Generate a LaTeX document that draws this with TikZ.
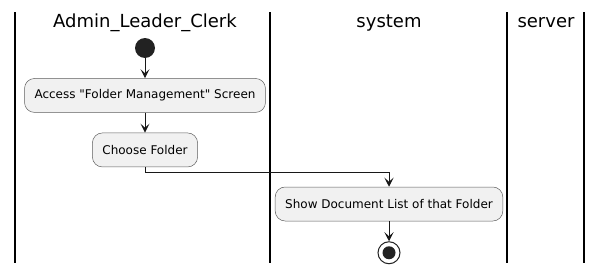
\documentclass[tikz,border=0pt]{standalone}
\usepackage{fontspec}
\setmainfont{DejaVu Sans}[Ligatures=TeXOff]
\usetikzlibrary{positioning}
\usetikzlibrary{arrows.meta}
\definecolor{actfill}{HTML}{F1F1F1}
\definecolor{actline}{HTML}{181818}
\definecolor{dotfill}{HTML}{222222}
\tikzset{action/.style={
		rectangle,
		rounded corners=10pt,
		draw=actline!70,
		fill=actfill,
		line width=0.5pt,
		minimum height=34pt,
		inner xsep=10pt,
		font=\fontsize{12}{14}\selectfont,
	}
}
\tikzset{lane/.style={
		line width=1.5pt,
	}
}
\tikzset{lanetitle/.style={
		font=\fontsize{18}{20}\selectfont,
		inner sep=0pt,
	}
}
\tikzset{flow/.style={
		-{Stealth[length=9pt, width=9pt, inset=4pt]},
		line width=1pt,
		actline,
	}
}
\tikzset{startdot/.style={
		circle,
		fill=dotfill,
		minimum size=20pt,
		inner sep=0pt,
	}
}
\tikzset{stopdot/.style={
		circle,
		draw=dotfill,
		fill=white,
		line width=1pt,
		minimum size=22pt,
		inner sep=0pt,
		path picture={
			\fill[dotfill] (path picture bounding box.center) circle (6.5pt);
		},
	}
}

\begin{document}
\begin{tikzpicture}[x=1pt, y=-1pt]
\useasboundingbox (0,0) rectangle (603,273);

% swimlanes
\foreach \lx in {15,270,507,584}
	\draw[lane] (\lx,12) -- (\lx,263);

\node[lanetitle] (admin) at (145,23) {Admin\_Leader\_Clerk};
\node[lanetitle] (system) at (389,23) {system};
\node[lanetitle] (server) at (546,23) {server};

% activities
\node[startdot] (start) at (145,48) {};
\node[action, below = 20pt of start] (access) {Access "Folder Management" Screen};
\node[action, below = 20pt of access] (choose) {Choose Folder};
\node[action] (show) at (389,204) {Show Document List of that Folder};
\node[stopdot, below = 20pt of show] (stop) {};

\draw[flow] (start) -- (access);
\draw[flow] (access) -- (choose);
\draw[flow] (choose.south) -- ++(0,5) -| (show.north);
\draw[flow] (show) -- (stop);

\end{tikzpicture}
\end{document}
